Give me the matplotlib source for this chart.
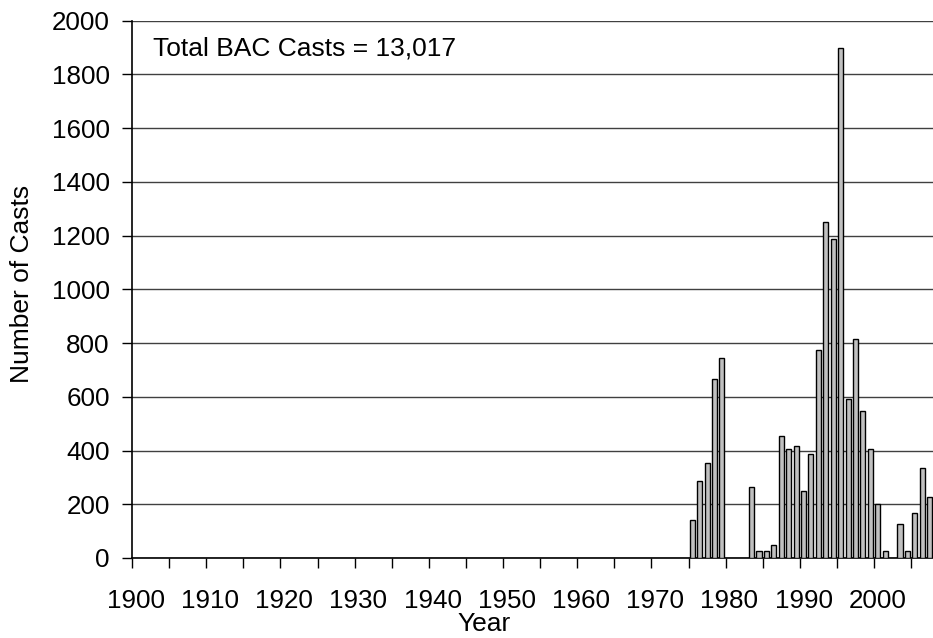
import numpy as np
import matplotlib.pyplot as plt

plt.rcParams['font.family'] = ['Liberation Sans', 'DejaVu Sans']

# casts per year (years with no casts are left out)
years = [1975, 1976, 1977, 1978, 1979,
         1983, 1984, 1985, 1986, 1987, 1988, 1989,
         1990, 1991, 1992, 1993, 1994, 1995, 1996, 1997, 1998, 1999,
         2000, 2001, 2003, 2004, 2005, 2006, 2007]
casts = [143, 287, 352, 667, 746,
         263, 26, 26, 48, 454, 406, 417,
         251, 387, 774, 1251, 1186, 1900, 591, 816, 548, 406,
         202, 25, 127, 26, 169, 335, 226]

total_label = 'Total BAC Casts = 13,017'
label_years = np.arange(1900, 2010, 10)

fig = plt.figure(figsize=(9.33, 6.38), dpi=100)
ax = fig.add_axes([0.1415, 0.1254, 0.8748, 0.8422])

ax.bar(years, casts, width=0.68, color='#c0c0c0', edgecolor='black',
       linewidth=1.0, zorder=3)

ax.set_xlim(1899.5, 2009.5)
ax.set_ylim(0, 2000)
ax.set_yticks(np.arange(0, 2001, 200))
ax.yaxis.grid(True, color='#404040', linewidth=1.0, zorder=0)

# tick marks between categories, labels on the decade categories
ax.set_xticks(np.arange(1899.5, 2010, 5))
ax.set_xticklabels([])
ax.set_xticks(label_years, minor=True)
ax.set_xticklabels([str(y) for y in label_years], minor=True)
ax.tick_params(axis='x', which='major', direction='out', length=7, width=1)
ax.tick_params(axis='x', which='minor', length=0, pad=22, labelsize=18.7)
ax.tick_params(axis='y', direction='out', length=7, width=1, labelsize=18.7, pad=9)

for side in ['top', 'right']:
    ax.spines[side].set_visible(False)
ax.spines['left'].set_linewidth(1.2)
ax.spines['bottom'].set_linewidth(1.2)

ax.text(0.0255, 0.949, total_label, transform=ax.transAxes,
        fontsize=19, va='center', ha='left')

fig.text(484 / 933, 1 - 636 / 638, 'Year', fontsize=19, ha='center', va='bottom')
fig.text(22 / 933, 1 - 284 / 638, 'Number of Casts', fontsize=19,
         rotation=90, ha='center', va='center')

fig.savefig('out.png', dpi=100)
